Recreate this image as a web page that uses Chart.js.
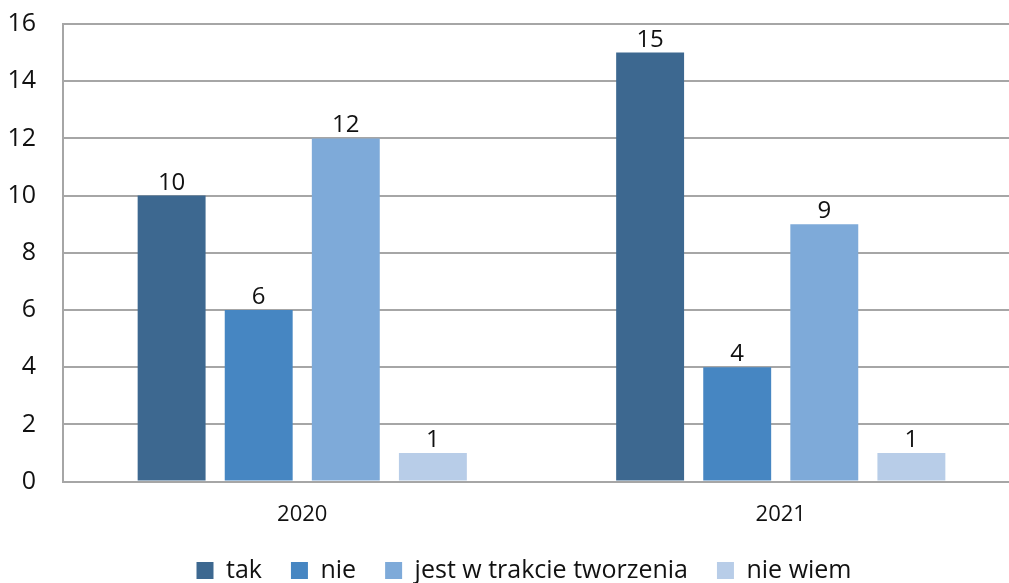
<!DOCTYPE html>
<html>
<head>
<meta charset="utf-8">
<script src="https://cdn.jsdelivr.net/npm/chart.js@4"></script>
<style>
  html, body { margin: 0; padding: 0; background: #ffffff; overflow: hidden; }
  #wrap { width: 1040px; height: 583px; }
</style>
</head>
<body>
<div id="wrap"><canvas id="wykres"></canvas></div>
<script>
// dane
const lata = ['2020', '2021'];
const tak = [10, 15];
const nie = [6, 4];
const wTrakcie = [12, 9];
const nieWiem = [1, 1];
const yTicks = [0, 2, 4, 6, 8, 10, 12, 14, 16];

const OS = '"Open Sans", sans-serif';

// etykiety wartości nad słupkami
const etykietyPlugin = {
  id: 'etykiety',
  afterDatasetsDraw(chart) {
    const ctx = chart.ctx;
    ctx.save();
    ctx.font = '24px ' + OS;
    ctx.fillStyle = '#111111';
    ctx.textAlign = 'center';
    ctx.textBaseline = 'alphabetic';
    chart.data.datasets.forEach((ds, i) => {
      chart.getDatasetMeta(i).data.forEach((bar, j) => {
        ctx.fillText(ds.data[j], bar.x, bar.y - 6);
      });
    });
    ctx.restore();
  }
};

// legenda przesunięta lekko w prawo, jak w oryginale
const przesunLegende = {
  id: 'przesunLegende',
  afterLayout(chart) {
    if (chart.legend) {
      chart.legend.left += 14;
      chart.legend.right += 14;
    }
  }
};

new Chart(document.getElementById('wykres'), {
  type: 'bar',
  data: {
    labels: lata,
    datasets: [
      { label: 'tak', data: tak, backgroundColor: '#3d6890' },
      { label: 'nie', data: nie, backgroundColor: '#4686c2' },
      { label: 'jest w trakcie tworzenia', data: wTrakcie, backgroundColor: '#7eaad9' },
      { label: 'nie wiem', data: nieWiem, backgroundColor: '#b8cde8' }
    ]
  },
  options: {
    responsive: true,
    maintainAspectRatio: false,
    animation: false,
    layout: { padding: { top: 0, right: 20, left: 0, bottom: -10 } },
    datasets: {
      bar: { categoryPercentage: 0.728, barPercentage: 0.78 }
    },
    scales: {
      x: {
        grid: { display: false, drawTicks: false },
        border: { color: '#a6a6a6', width: 2 },
        ticks: { color: '#111111', font: { family: OS, size: 22 }, padding: 20 },
        afterFit: (s) => { s.height -= 19; s.paddingLeft = 0; s.paddingRight = 0; }
      },
      y: {
        min: 0,
        max: 16,
        afterBuildTicks: (axis) => { axis.ticks = yTicks.map(v => ({ value: v })); },
        grid: { color: '#a6a6a6', lineWidth: 2, drawTicks: false },
        border: { color: '#a6a6a6', width: 2 },
        ticks: { color: '#111111', font: { family: OS, size: 25 }, padding: 27 },
        afterFit: (s) => { s.width = 63; s.paddingTop = 24; s.paddingBottom = 0; }
      }
    },
    plugins: {
      legend: {
        position: 'bottom',
        labels: {
          color: '#111111',
          font: { family: OS, size: 25 },
          boxWidth: 17,
          boxHeight: 17,
          padding: 29
        }
      },
      tooltip: { enabled: false }
    }
  },
  plugins: [etykietyPlugin, przesunLegende]
});
</script>
</body>
</html>
